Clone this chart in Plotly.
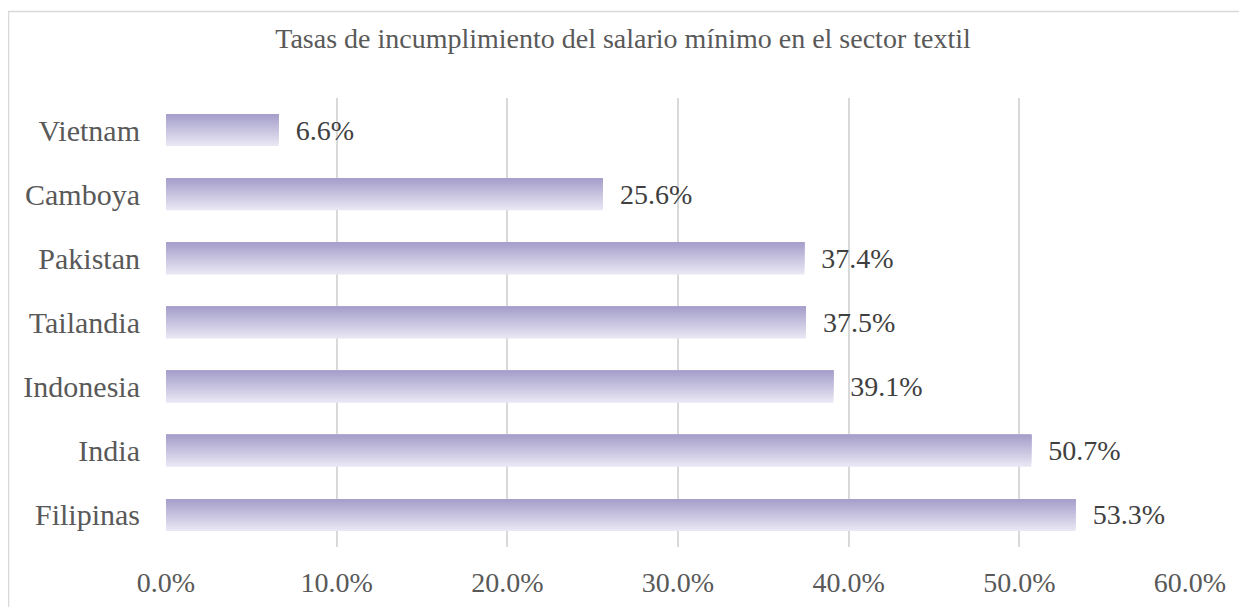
import plotly.graph_objects as go

# data (bottom to top as plotly draws categories)
paises = ["Filipinas", "India", "Indonesia", "Tailandia", "Pakistan", "Camboya", "Vietnam"]
tasas = [0.533, 0.507, 0.391, 0.375, 0.374, 0.256, 0.066]

titulo = "Tasas de incumplimiento del salario mínimo en el sector textil"
ticks = [0, 0.1, 0.2, 0.3, 0.4, 0.5, 0.6]

FONT = "Liberation Serif, Times New Roman, serif"
GRIS = "#595959"

# colours for the fake vertical gradient (bottom -> top)
c_bot = (232, 230, 243)
c_top = (166, 160, 203)
n_layers = 16
bar_w = 0.5

# page body has an 8px margin, so the figure is a bit smaller
W, H = 1239, 599
L, R, T, B = 158, 57, 90, 60
pw, ph = W - L - R, H - T - B

fig = go.Figure()

# base bar (lightest) carries the value labels
fig.add_trace(go.Bar(
    y=paises, x=tasas, orientation="h",
    width=bar_w,
    marker=dict(color="rgb(%d,%d,%d)" % c_bot, line=dict(width=0)),
    text=["  {:.1%}".format(v) for v in tasas],
    textposition="outside",
    textfont=dict(family=FONT, size=28, color="#404040"),
    cliponaxis=False,
    hoverinfo="skip",
))

# stacked thinner bars aligned to the top edge, darker each time
for k in range(1, n_layers):
    t = k / (n_layers - 1)
    col = tuple(round(c_bot[i] + (c_top[i] - c_bot[i]) * t) for i in range(3))
    w = bar_w * (1 - k / n_layers)
    fig.add_trace(go.Bar(
        y=paises, x=tasas, orientation="h",
        width=w, offset=bar_w / 2 - w,
        marker=dict(color="rgb(%d,%d,%d)" % col, line=dict(width=0)),
        hoverinfo="skip",
    ))

fig.update_layout(
    width=W, height=H,
    barmode="overlay",
    showlegend=False,
    plot_bgcolor="white",
    paper_bgcolor="white",
    margin=dict(l=L, r=R, t=T, b=B, autoexpand=False),
    font=dict(family=FONT, color=GRIS),
    title=dict(text=titulo, x=(L + pw / 2 + (623 - 8 - L - pw / 2)) / W, xanchor="center",
               y=1 - 30 / H, yanchor="middle",
               font=dict(family=FONT, size=28, color=GRIS)),
    xaxis=dict(
        range=[0, 0.6], tickvals=ticks, tickformat=".1%",
        showgrid=True, gridcolor="#d9d9d9", gridwidth=1.5,
        zeroline=False, showline=False, automargin=False,
        tickfont=dict(family=FONT, size=28, color=GRIS),
        ticks="", ticklabelstandoff=16,
    ),
    yaxis=dict(
        showgrid=False, zeroline=False, showline=False, automargin=False,
        tickfont=dict(family=FONT, size=30, color=GRIS),
        ticks="", ticklabelstandoff=25,
    ),
)

# outer chart border (light grey)
fig.add_shape(type="rect", xref="paper", yref="paper",
              x0=(0.5 - L) / pw, x1=(1238 - L) / pw,
              y0=-0.3, y1=1 + (T - 3.5) / ph,
              line=dict(color="#d9d9d9", width=1.5), fillcolor="rgba(0,0,0,0)",
              layer="below")

fig.write_html("out.html")
